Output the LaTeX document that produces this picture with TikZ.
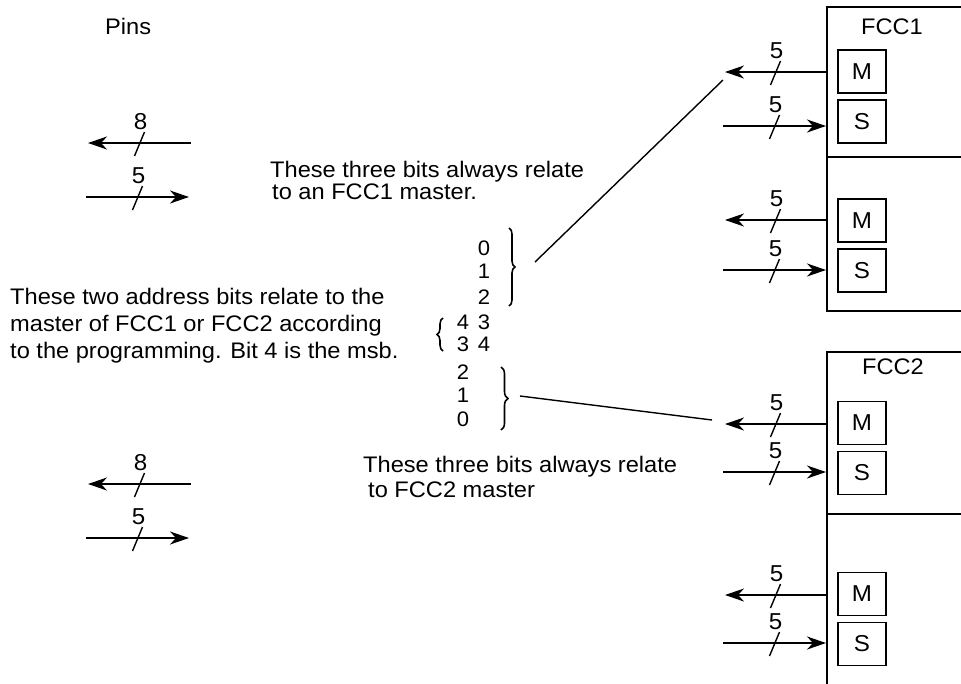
\documentclass[tikz,border=0pt]{standalone}
\usepackage{fontspec}
\setmainfont{Liberation Sans}[FakeStretch=1.05]
\usetikzlibrary{arrows.meta,decorations.pathreplacing}

\begin{document}
\begin{tikzpicture}[x=1pt,y=-1pt,
    txt/.style={inner sep=0pt, font=\fontsize{22.5}{22.5}\selectfont},
    digit/.style={inner sep=0pt, font=\fontsize{21}{21}\selectfont},
    buslabel/.style={inner sep=0pt, font=\fontsize{23}{23}\selectfont},
    busline/.style={line width=1.8pt, -{Stealth[length=19pt,width=13pt,inset=6pt]}},
    unitbox/.style={draw, line width=1.6pt, minimum width=48pt, minimum height=43pt,
        inner sep=0pt, font=\fontsize{23}{23}\selectfont},
    fccbox/.style={draw, line width=1.8pt, anchor=north west, minimum width=200pt, inner sep=0pt},
    bracket/.style={decorate, decoration={brace,amplitude=6pt}, line width=1.6pt},
    pics/busmark/.style={code={
        \draw[line width=1.4pt, -] (-5,13) -- (5,-11);
        \node[buslabel, anchor=base] at (1,-14) {#1};}}]
    \clip (0,0) rectangle (961,683);

    % FCC blocks
    \node[fccbox, minimum height=150pt] (fcc1a) at (826,6) {};
    \node[fccbox, minimum height=154pt] (fcc1b) at (826,156) {};
    \node[fccbox, minimum height=162pt] (fcc2a) at (826,351) {};
    \node[fccbox, minimum height=200pt] (fcc2b) at (826,513) {};
    \node[txt] (lab1) at (892,27) {FCC1};
    \node[txt] (lab2) at (893,367) {FCC2};

    \foreach \n/\y in {1/71.5, 2/220.5, 3/423, 4/594} {
        \node[unitbox] (m\n) at (862,\y) {M};
        \node[unitbox] (s\n) at (862,\y+50) {S};
    }

    \foreach \n/\ym/\ys in {1/72/126, 2/220/270, 3/424/472, 4/595/643} {
        \coordinate (mi\n) at (826,\ym); \coordinate (mo\n) at (725,\ym);
        \coordinate (si\n) at (723,\ys); \coordinate (so\n) at (826,\ys);
        \draw[busline] (mi\n) -- (mo\n) pic[pos=0.5] {busmark=5};
        \draw[busline] (si\n) -- (so\n) pic[pos=0.5] {busmark=5};
    }

    % pins
    \node[txt, anchor=base west] (pins) at (105,34) {Pins};
    \foreach \n/\y in {1/143, 2/484} {
        \coordinate (pa\n) at (191,\y); \coordinate (pb\n) at (88,\y);
        \coordinate (pc\n) at (86,\y+54); \coordinate (pd\n) at (189,\y+54);
        \draw[busline] (pa\n) -- (pb\n) pic[pos=0.5] {busmark=8};
        \draw[busline] (pc\n) -- (pd\n) pic[pos=0.5] {busmark=5};
    }

    % address bits
    \foreach \x/\y/\d [count=\i] in {484/248/0, 484/271/1, 484/297/2, 463/322/4, 484/322/3,
            463/344/3, 484/344/4, 463/372/2, 463/395/1, 463/419/0}
        \node[digit] (bit\i) at (\x,\y) {\d};

    \draw[bracket] (509,228) -- (509,306);
    \draw[bracket] (443,351) -- (443,318);
    \draw[bracket, decoration={amplitude=7pt}] (501,367) -- (501,430);

    \coordinate (br1) at (535,262); \coordinate (lk1) at (723,80);
    \coordinate (br3) at (520,396); \coordinate (lk3) at (712,420);
    \draw[line width=1.4pt] (br1) -- (lk1);
    \draw[line width=1.4pt] (br3) -- (lk3);

    \node[txt, anchor=base west] (t1a) at (270,177) {These three bits always relate};
    \node[txt, anchor=base west] (t1b) at (272,199) {to an FCC1 master.};
    \node[txt, anchor=base west] (t2a) at (10,304) {These two address bits relate to the};
    \node[txt, anchor=base west] (t2b) at (10,331) {master of FCC1 or FCC2 according};
    \node[txt, anchor=base west] (t2c) at (10,358) {to the programming. Bit 4 is the msb.};
    \node[txt, anchor=base west] (t3a) at (363,472) {These three bits always relate};
    \node[txt, anchor=base west] (t3b) at (368,497) {to FCC2 master};
\end{tikzpicture}
\end{document}
